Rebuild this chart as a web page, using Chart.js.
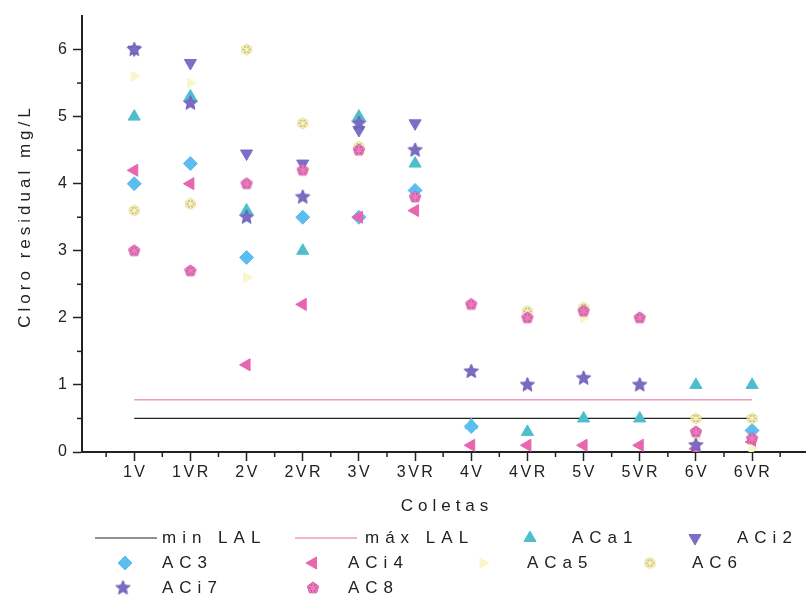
<!DOCTYPE html>
<html>
<head>
<meta charset="utf-8">
<title>Cloro residual</title>
<script src="https://cdn.jsdelivr.net/npm/chart.js"></script>
<style>
	body { margin: 0; background: #fff; }
	#wrap { width: 806px; height: 600px; }
</style>
</head>
<body>
<div id="wrap"><canvas id="myChart" width="806" height="600"></canvas></div>
<script>
	// coletas (eixo x)
	const coletas = [ '1V', '1VR', '2V', '2VR', '3V', '3VR', '4V', '4VR', '5V', '5VR', '6V', '6VR' ];
	const yTicks = [ 0, 1, 2, 3, 4, 5, 6 ];

	// limites
	const minLAL = [ 0.5, 0.5, 0.5, 0.5, 0.5, 0.5, 0.5, 0.5, 0.5, 0.5, 0.5, 0.5 ];
	const maxLAL = [ 0.78, 0.78, 0.78, 0.78, 0.78, 0.78, 0.78, 0.78, 0.78, 0.78, 0.78, 0.78 ];

	// cloro residual mg/L por amostra
	const ACa1 = [ 5.0, 5.3, 3.6, 3.0, 5.0, 4.3, 0.4, 0.3, 0.5, 0.5, 1.0, 1.0 ];
	const ACi2 = [ 6.0, 5.8, 4.45, 4.3, 4.8, 4.9, null, null, null, null, null, null ];
	const AC3 = [ 4.0, 4.3, 2.9, 3.5, 3.5, 3.9, 0.38, null, null, null, null, 0.32 ];
	const ACi4 = [ 4.2, 4.0, 1.3, 2.2, 3.5, 3.6, 0.1, 0.1, 0.1, 0.1, 0.05, 0.15 ];
	const ACa5 = [ 5.6, 5.5, 2.6, null, null, null, null, null, 2.0, null, 0.2, 0.05 ];
	const AC6 = [ 3.6, 3.7, 6.0, 4.9, 4.55, null, null, 2.1, 2.15, null, 0.5, 0.5 ];
	const ACi7 = [ 6.0, 5.2, 3.5, 3.8, 4.9, 4.5, 1.2, 1.0, 1.1, 1.0, 0.1, null ];
	const AC8 = [ 3.0, 2.7, 4.0, 4.2, 4.5, 3.8, 2.2, 2.0, 2.1, 2.0, 0.3, 0.2 ];

	const FONT = "'Liberation Sans', Arial, sans-serif";

	function pts( arr ) {
		return arr.map( function( v, i ) { return { x: i, y: v }; } );
	}

	// desenha marcador poligonal num canvas pequeno
	function makeMarker( kind, fill, stroke, size, dots ) {
		const c = document.createElement( 'canvas' );
		c.width = size;
		c.height = size;
		const g = c.getContext( '2d' );
		const cx = size / 2, cy = size / 2, r = size / 2 - 1;
		g.beginPath();
		if( kind === 'star' ) {
			for( let k = 0; k < 10; k++ ) {
				const rr = k % 2 ? r * 0.45 : r;
				const a = -Math.PI / 2 + k * Math.PI / 5;
				g.lineTo( cx + rr * Math.cos( a ), cy + rr * Math.sin( a ) );
			}
		} else {
			const n = kind === 'pentagon' ? 5 : 6;
			for( let k = 0; k < n; k++ ) {
				const a = -Math.PI / 2 + k * 2 * Math.PI / n;
				g.lineTo( cx + r * Math.cos( a ), cy + r * Math.sin( a ) );
			}
		}
		g.closePath();
		g.fillStyle = fill;
		g.fill();
		g.strokeStyle = stroke;
		g.lineWidth = 1;
		g.stroke();
		if( dots ) {
			g.fillStyle = dots;
			for( let k = 0; k < 6; k++ ) {
				const a = k * Math.PI / 3;
				g.fillRect( cx + r * 0.55 * Math.cos( a ) - 0.7, cy + r * 0.55 * Math.sin( a ) - 0.7, 1.4, 1.4 );
			}
		}
		return c;
	}

	const starMark = makeMarker( 'star', '#7a6cc4', '#6a5cb4', 17 );
	const pentMark = makeMarker( 'pentagon', '#e87cbe', '#d25ea6', 14, '#c04890' );
	const hexMark = makeMarker( 'hexagon', '#f7f2c4', '#e6dc94', 13, '#a89a40' );

	function pointSet( label, arr, color, style, rot, radius ) {
		return {
			label: label,
			data: pts( arr ),
			showLine: false,
			pointStyle: style,
			rotation: rot,
			pointRadius: radius,
			pointHoverRadius: radius,
			backgroundColor: color,
			borderColor: color,
			borderWidth: 1
		};
	}

	const datasets = [
		{ label: 'min LAL', data: pts( minLAL ), showLine: true, borderColor: '#222', borderWidth: 1.2, pointRadius: 0 },
		{ label: 'máx LAL', data: pts( maxLAL ), showLine: true, borderColor: '#ef98c2', borderWidth: 1.4, pointRadius: 0 },
		pointSet( 'ACa1', ACa1, '#4dbfcc', 'triangle', 0, 7 ),
		pointSet( 'ACi2', ACi2, '#7a6ec6', 'triangle', 180, 7 ),
		pointSet( 'AC3', AC3, '#5cbdf0', 'rectRot', 0, 7 ),
		pointSet( 'ACi4', ACi4, '#e866b0', 'triangle', -90, 7 ),
		pointSet( 'ACa5', ACa5, '#faf6cc', 'triangle', 90, 6 ),
		pointSet( 'AC6', AC6, '#f5efb8', hexMark, 0, 6 ),
		pointSet( 'ACi7', ACi7, '#7a6cc4', starMark, 0, 8 ),
		pointSet( 'AC8', AC8, '#e87cbe', pentMark, 0, 7 )
	];
	// os últimos ficam por cima
	datasets.forEach( function( d, i ) { d.order = datasets.length - i; } );

	// legenda em grade: [dataset, x do símbolo, x do texto, y]
	const legendGrid = [
		[ 0, 125, 162, 538 ], [ 1, 325, 365, 538 ], [ 2, 530, 572, 538 ], [ 3, 695, 737, 538 ],
		[ 4, 125, 162, 563 ], [ 5, 313, 348, 563 ], [ 6, 483, 527, 563 ], [ 7, 650, 692, 563 ],
		[ 8, 123, 162, 588 ], [ 9, 313, 348, 588 ]
	];

	const extras = {
		id: 'extras',
		afterDraw: function( chart ) {
			const ctx = chart.ctx;
			const xs = chart.scales.x, ys = chart.scales.y;
			ctx.save();
			ctx.strokeStyle = '#222';
			ctx.lineWidth = 1.5;
			// ticks menores
			for( let v = -0.5; v <= 11.5; v += 1 ) {
				const px = xs.getPixelForValue( v );
				ctx.beginPath();
				ctx.moveTo( px, xs.top );
				ctx.lineTo( px, xs.top + 5 );
				ctx.stroke();
			}
			for( let v = 0.5; v < 6.5; v += 1 ) {
				const py = ys.getPixelForValue( v );
				ctx.beginPath();
				ctx.moveTo( ys.right, py );
				ctx.lineTo( ys.right - 5, py );
				ctx.stroke();
			}

			ctx.fillStyle = '#222';
			ctx.textAlign = 'center';
			ctx.textBaseline = 'middle';

			// rótulos do eixo x (espaçados)
			ctx.font = '16px ' + FONT;
			ctx.letterSpacing = '2.5px';
			coletas.forEach( function( c, i ) {
				ctx.fillText( c, xs.getPixelForValue( i ) + 1, xs.top + 21 );
			});

			// titulo do eixo x
			ctx.font = '17px ' + FONT;
			ctx.letterSpacing = '5px';
			ctx.fillText( 'Coletas', 447, 506 );

			// titulo do eixo y
			ctx.save();
			ctx.translate( 25, 218 );
			ctx.rotate( -Math.PI / 2 );
			ctx.letterSpacing = '4px';
			ctx.fillText( 'Cloro residual mg/L', 2, 0 );
			ctx.restore();

			// legenda
			ctx.letterSpacing = '6px';
			ctx.textAlign = 'left';
			legendGrid.forEach( function( it ) {
				const ds = chart.data.datasets[ it[ 0 ] ];
				if( ds.showLine ) {
					ctx.strokeStyle = ds.borderColor;
					ctx.lineWidth = ds.borderWidth;
					ctx.beginPath();
					ctx.moveTo( it[ 1 ] - 30, it[ 3 ] );
					ctx.lineTo( it[ 1 ] + 32, it[ 3 ] );
					ctx.stroke();
				} else {
					ctx.fillStyle = ds.backgroundColor;
					ctx.strokeStyle = ds.borderColor;
					ctx.lineWidth = 1;
					Chart.helpers.drawPoint( ctx, {
						pointStyle: ds.pointStyle,
						rotation: ds.rotation,
						radius: ds.pointRadius,
						borderWidth: 1
					}, it[ 1 ], it[ 3 ] );
				}
				ctx.fillStyle = '#222';
				ctx.fillText( ds.label, it[ 2 ], it[ 3 ] );
			});
			ctx.restore();
		}
	};

	new Chart( document.getElementById( 'myChart' ), {
		type: 'scatter',
		data: { datasets: datasets },
		options: {
			responsive: false,
			animation: false,
			events: [],
			layout: { autoPadding: false, padding: { top: 16, right: 0, left: 0, bottom: 0 } },
			plugins: {
				legend: { display: false },
				tooltip: { enabled: false }
			},
			scales: {
				x: {
					type: 'linear',
					min: -0.93,
					max: 11.96,
					afterBuildTicks: function( scale ) {
						scale.ticks = coletas.map( function( c, i ) { return { value: i }; } );
					},
					afterFit: function( scale ) {
						scale.height = 148;
						scale.paddingLeft = 0;
						scale.paddingRight = 0;
					},
					ticks: { display: false },
					grid: { drawOnChartArea: false, tickLength: 9, tickColor: '#222', tickWidth: 1.5 },
					border: { color: '#222', width: 2 }
				},
				y: {
					min: 0,
					max: 6.5,
					afterBuildTicks: function( scale ) {
						scale.ticks = yTicks.map( function( v ) { return { value: v }; } );
					},
					afterFit: function( scale ) {
						scale.width = 82;
						scale.paddingTop = 0;
						scale.paddingBottom = 0;
					},
					ticks: {
						padding: 6,
						color: '#222',
						font: { family: FONT, size: 16 }
					},
					grid: { drawOnChartArea: false, tickLength: 9, tickColor: '#222', tickWidth: 1.5 },
					border: { color: '#222', width: 2 }
				}
			}
		},
		plugins: [ extras ]
	});
</script>
</body>
</html>
